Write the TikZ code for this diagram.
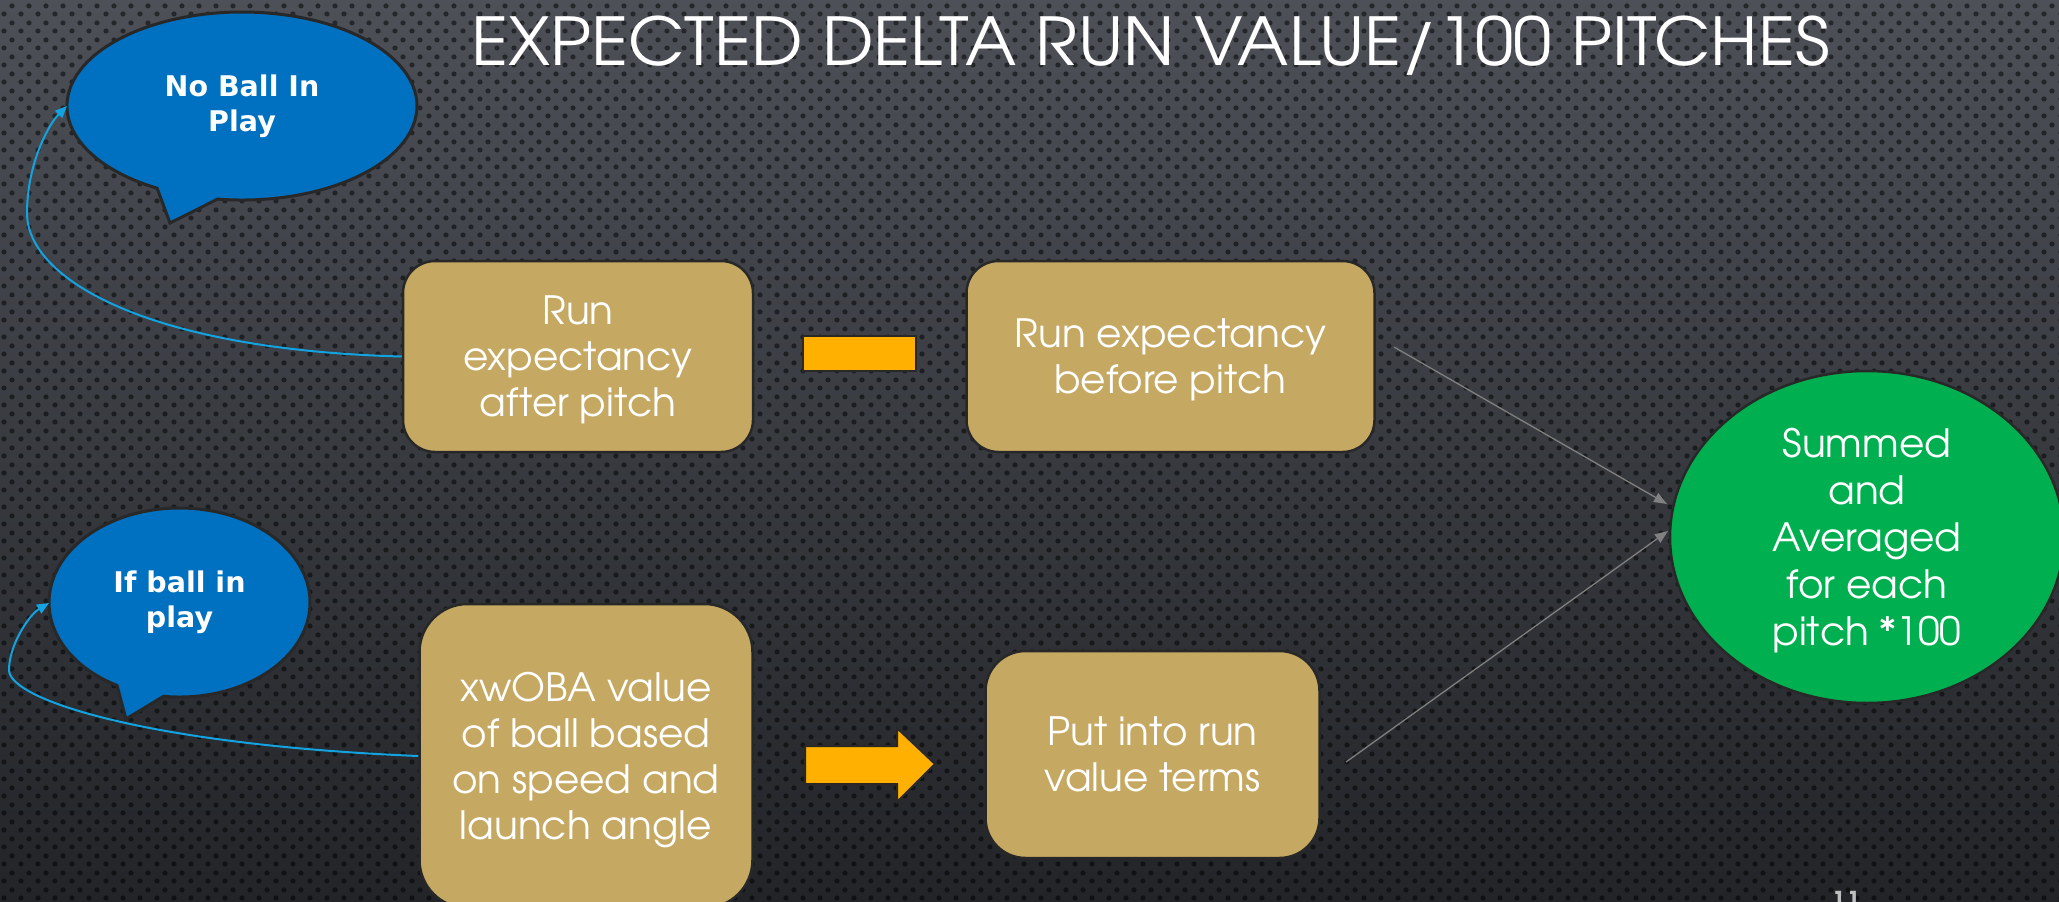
\documentclass[tikz,border=0pt]{standalone}
\usepackage{fontspec}
\usepackage{graphicx}
\usetikzlibrary{arrows.meta,shapes.geometric,patterns.meta}
\newfontfamily\gothic{TeX Gyre Adventor}
\newfontfamily\bubblefont{DejaVu Sans}
\definecolor{bgtop}{HTML}{4D5057}
\definecolor{bgbot}{HTML}{222428}
\definecolor{boxtan}{HTML}{C5A862}
\definecolor{edgedark}{HTML}{282828}
\definecolor{minusorange}{HTML}{FFB000}
\definecolor{sumgreen}{HTML}{00B050}
\definecolor{bubbleblue}{HTML}{0070C0}
\definecolor{curveblue}{HTML}{12A3E0}
\definecolor{arrowgray}{HTML}{808080}
\definecolor{pagegray}{HTML}{BFBFBF}
\tikzdeclarepattern{
  name=bgdots,
  type=uncolored,
  bounding box={(0pt,0pt) and (16.5pt,17pt)},
  tile size={(16.5pt,17pt)},
  code={
    \pgfpathcircle{\pgfpoint{4.1pt}{4.25pt}}{2.7pt}
    \pgfpathcircle{\pgfpoint{12.35pt}{12.75pt}}{2.7pt}
    \pgfusepath{fill}
  }
}
\begin{document}
\begin{tikzpicture}[x=1pt,y=-1pt,
  bodytext/.style={text=white, font=\gothic\fontsize{39}{46}\selectfont, align=center},
  stepbox/.style={bodytext, draw=edgedark, fill=boxtan, line width=2.5pt, inner sep=0pt, text depth=0pt},
  orangeshape/.style={draw=edgedark, fill=minusorange, line width=2pt},
  bubble/.style={draw=edgedark, fill=bubbleblue, line width=3pt},
  bubbletext/.style={text=white, font=\bubblefont\bfseries\fontsize{28.5}{35}\selectfont, align=center},
  bluecurve/.style={draw=curveblue, line width=2pt, -{Triangle[length=12pt,width=10pt]}},
  grayarrow/.style={draw=arrowgray, line width=1.3pt, -{Triangle[length=13pt,width=10pt]}}
]
\useasboundingbox (0,0) rectangle (2059,902);
\shade[top color=bgtop, bottom color=bgbot] (0,0) rectangle (2059,902);
\fill[pattern=bgdots, pattern color=black, fill opacity=0.5] (0,0) rectangle (2059,902);

% title
\node[text=white, font=\gothic\fontsize{66}{72}\selectfont, anchor=base, inner sep=0pt] (title) at (1150.5,65) {\scalebox{1.048}[1]{EXPECTED DELTA RUN VALUE/100 PITCHES}};

% boxes
\node[stepbox, minimum width=350pt, minimum height=191pt, rounded corners=32pt] (A) at (578,356.5) {Run\\expectancy\\after pitch};
\node[stepbox, minimum width=408pt, minimum height=191pt, rounded corners=32pt] (B) at (1170.5,356.5) {Run expectancy\\before pitch};
\node[stepbox, minimum width=333pt, minimum height=304pt, rounded corners=48pt] (C) at (586,756) {xwOBA value\\of ball based\\on speed and\\launch angle};
\node[stepbox, minimum width=334pt, minimum height=207pt, rounded corners=40pt] (D) at (1152.5,754.5) {Put into run\\value terms};

% minus sign and block arrow
\node[orangeshape, minimum width=113pt, minimum height=35pt, inner sep=0pt] (minus) at (859.5,353.5) {};
\filldraw[orangeshape] (805,746) -- (897,746) -- (897,728) -- (935,764) -- (897,802) -- (897,784) -- (805,784) -- cycle;

% green ellipse
\node[ellipse, draw=edgedark, fill=sumgreen, line width=2.5pt, minimum width=394pt, minimum height=332pt, inner sep=0pt, text=white, font=\gothic\fontsize{39}{47}\selectfont, align=center, text depth=0pt] (S) at (1867,537) {Summed\\and\\Averaged\\for each\\pitch *100};

% speech bubbles
\filldraw[bubble] (217.6,199.1) arc[start angle=98, end angle=-241, x radius=175, y radius=94] -- (170,223) -- cycle;
\node[bubbletext] (nb) at (242,106) {No Ball In\\Play};
\coordinate (nbw) at (67,106);
\filldraw[bubble] (163.6,696.3) arc[start angle=97, end angle=-241.4, x radius=130.5, y radius=94.5] -- (126,719) -- cycle;
\node[bubbletext] (ib) at (179.5,602.5) {If ball in\\play};
\coordinate (ibw) at (49,603);

% blue curved connectors
\draw[bluecurve] (A.west) .. controls (150,350) and (27,280) .. (27,213) .. controls (27,165) and (48,125) .. (nbw);
\draw[bluecurve] (C.west) .. controls (150,745) and (9,700) .. (9,670) .. controls (9,645) and (29,615) .. (ibw);

% gray connectors
\coordinate (g1s) at (1394,347);
\coordinate (g1e) at (1667,504);
\coordinate (g2s) at (1346,762);
\coordinate (g2e) at (1668,531);
\draw[grayarrow] (g1s) -- (g1e);
\draw[grayarrow] (g2s) -- (g2e);

% page number
\node[text=pagegray, font=\gothic\bfseries\fontsize{26}{30}\selectfont, anchor=base, inner sep=0pt] (pg) at (1846,910) {11};
\end{tikzpicture}
\end{document}
